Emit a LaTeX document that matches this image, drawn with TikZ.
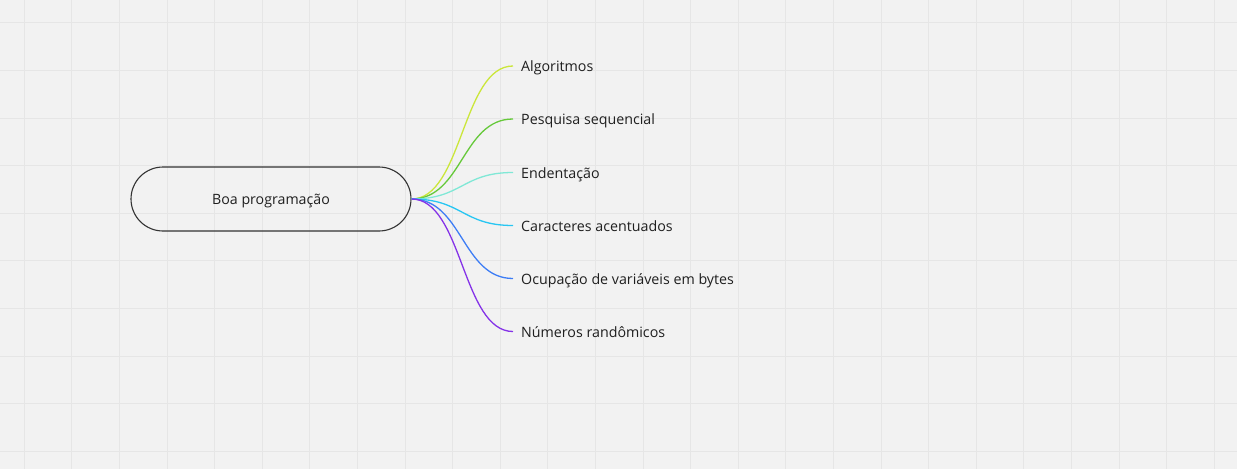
\documentclass[tikz,border=0pt]{standalone}
\usepackage{fontspec}
\setmainfont{Open Sans}
\definecolor{bgc}{HTML}{F2F2F2}
\definecolor{gridc}{HTML}{E6E6E6}
\definecolor{txt}{HTML}{1F1F1F}
\definecolor{c1}{HTML}{CBE63A}
\definecolor{c2}{HTML}{66C93A}
\definecolor{c3}{HTML}{80E8D6}
\definecolor{c4}{HTML}{28C6F2}
\definecolor{c5}{HTML}{3D7DF5}
\definecolor{c6}{HTML}{8533E8}
\tikzset{
  rootbox/.style={draw=black!80, line width=1.1pt, rounded corners=32pt,
    minimum width=280pt, minimum height=64pt, inner sep=0pt,
    font=\fontsize{14.2}{17}\selectfont, text=txt, text height=11pt, text depth=0pt},
  leaf/.style={anchor=west, inner xsep=8pt, inner ysep=0pt,
    font=\fontsize{14.25}{17}\selectfont, text=txt, text height=11.5pt, text depth=0pt},
  branch/.style={line width=1.3pt},
}
\begin{document}
\begin{tikzpicture}[x=1pt,y=-1pt]
\useasboundingbox (0,0) rectangle (1237,469);
\fill[bgc] (0,0) rectangle (1237,469);
\foreach \i in {0,...,25} {
  \draw[gridc, line width=1pt] ({24.3+47.6*\i},0) -- ({24.3+47.6*\i},469);
}
\foreach \j in {0,...,9} {
  \draw[gridc, line width=1pt] (0,{22.7+47.65*\j}) -- (1237,{22.7+47.65*\j});
}
\node[rootbox] (root) at (271,199) {Boa programação};
\node[leaf] (a) at (513,66) {Algoritmos};
\node[leaf] (b) at (513,119) {Pesquisa sequencial};
\node[leaf] (c) at (513,172.5) {Endentação};
\node[leaf] (d) at (513,225.5) {Caracteres acentuados};
\node[leaf] (e) at (513,278.5) {Ocupação de variáveis em bytes};
\node[leaf] (f) at (513,331.5) {Números randômicos};
\foreach \n/\c in {a/c1,b/c2,c/c3,d/c4,e/c5,f/c6} {
  \draw[branch, \c] (root.east) .. controls +(51,0) and +(-51,0) .. (\n.west);
}
\end{tikzpicture}
\end{document}
